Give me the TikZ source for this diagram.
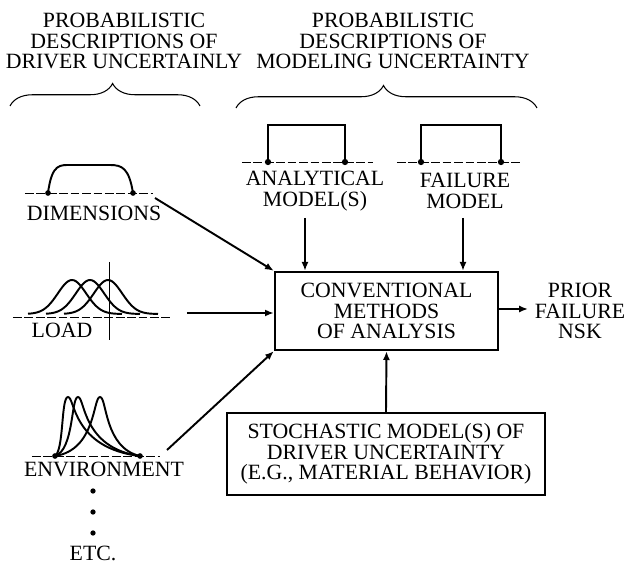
\documentclass[tikz,border=0pt]{standalone}
\usepackage{fontspec}
\setmainfont{Liberation Serif}
\usepackage{tikz}
\usetikzlibrary{positioning, arrows.meta, decorations.pathreplacing}

\begin{document}
\begin{tikzpicture}[x=0.02cm, y=-0.02cm, font=\fontsize{12.4}{11.8}\selectfont,
    lbl/.style={align=center, inner sep=0pt},
    blk/.style={draw, line width=1.4pt, inner sep=0pt, align=center},
    feed/.style={-{Latex[length=5pt,width=4pt]}, line width=1.1pt},
    curve/.style={line width=1.1pt},
    axisline/.style={dashed, dash pattern=on 5pt off 1.5pt, line width=0.4pt},
    brc/.style={decorate, decoration={brace, amplitude=0.45cm, aspect=#1}, line width=0.6pt}]
    \useasboundingbox (0,0) rectangle (627,568);

    % Headings over the two groups
    \node[lbl] (hdrdrv) at (124,41) {PROBABILISTIC\\DESCRIPTIONS OF\\DRIVER UNCERTAINLY};
    \node[lbl] (hdrmod) at (393,41) {PROBABILISTIC\\DESCRIPTIONS OF\\MODELING UNCERTAINTY};
    \draw[brc=0.54] (10,106) -- (200,106);
    \draw[brc=0.49] (236,108) -- (537,108);

    % Main boxes
    \node[blk, minimum width=4.46cm, minimum height=1.56cm] (conv) at (386.5,311)
        {CONVENTIONAL\\METHODS\\OF ANALYSIS};
    \node[blk, minimum width=6.36cm, minimum height=1.64cm] (stoch) at (386,454)
        {STOCHASTIC MODEL(S) OF\\DRIVER UNCERTAINTY\\(E.G., MATERIAL BEHAVIOR)};
    \node[lbl] (prior) at (580,311) {PRIOR\\FAILURE\\NSK};

    % Analytical and failure models
    \draw[axisline] (242,162) -- (373,162);
    \draw[line width=1.6pt] (268,162) -- (268,125) -- (345,125) -- (345,162);
    \fill (268,162) circle (1.8pt) (345,162) circle (1.8pt);
    \node[lbl] (anatxt) at (315,191) {ANALYTICAL\\MODEL(S)};
    \draw[axisline] (397,162) -- (520,162);
    \draw[line width=1.6pt] (421,162) -- (421,125) -- (501,125) -- (501,162);
    \fill (421,162) circle (1.8pt) (501,162) circle (1.8pt);
    \node[lbl] (failtxt) at (465,191) {FAILURE\\MODEL};

    % Dimensions
    \draw[axisline] (25,193) -- (153,193);
    \draw[curve] (48,193) .. controls (52,163) and (60,165) .. (72,165) -- (110,165)
        .. controls (122,165) and (129,168) .. (133,193);
    \fill (48,193) circle (1.6pt) (133,193) circle (1.6pt);
    \node[lbl] (dimtxt) at (94,213) {DIMENSIONS};

    % Load
    \draw[axisline] (13,317) -- (170,317);
    \draw[line width=0.5pt] (109,262) -- (109,340);
    \foreach \p in {72,90,108}
        \draw[curve, domain=-44:50, samples=50] plot ({\p+\x}, {314-34*exp(-(\x/20)^2)});
    \node[lbl] (loadtxt) at (62,330) {LOAD};

    % Environment
    \draw[axisline] (32,456) -- (160,456);
    \foreach \p in {68,78,100}
        \draw[curve] (55,456) .. controls (\p-4,450) and (\p-7,397) .. (\p,397)
            .. controls (\p+7,397) and (\p+4,448) .. (140,456);
    \fill (55,456) circle (1.6pt) (140,456) circle (1.6pt);
    \node[lbl] (envtxt) at (104,469) {ENVIRONMENT};
    \foreach \y in {491,512,533}
        \fill (93,\y) circle (1.5pt);
    \node[lbl] (etctxt) at (93,553) {ETC.};

    % Connectors
    \coordinate (dimtail) at (155,198);
    \coordinate (loadtail) at (187,313);
    \coordinate (envtail) at (167,450);
    \coordinate (anatail) at (305,218);
    \coordinate (failtail) at (463,218);
    \coordinate (priorhead) at (528,309);
    \draw[feed] (dimtail) -- (conv.north west);
    \draw[feed] (loadtail) -- (loadtail -| conv.west);
    \draw[feed] (envtail) -- (conv.south west);
    \draw[feed] (anatail) -- (anatail |- conv.north);
    \draw[feed] (failtail) -- (failtail |- conv.north);
    \draw[feed] (stoch.north) -- (conv.south);
    \draw[feed] (conv.east |- priorhead) -- (priorhead);
\end{tikzpicture}
\end{document}
